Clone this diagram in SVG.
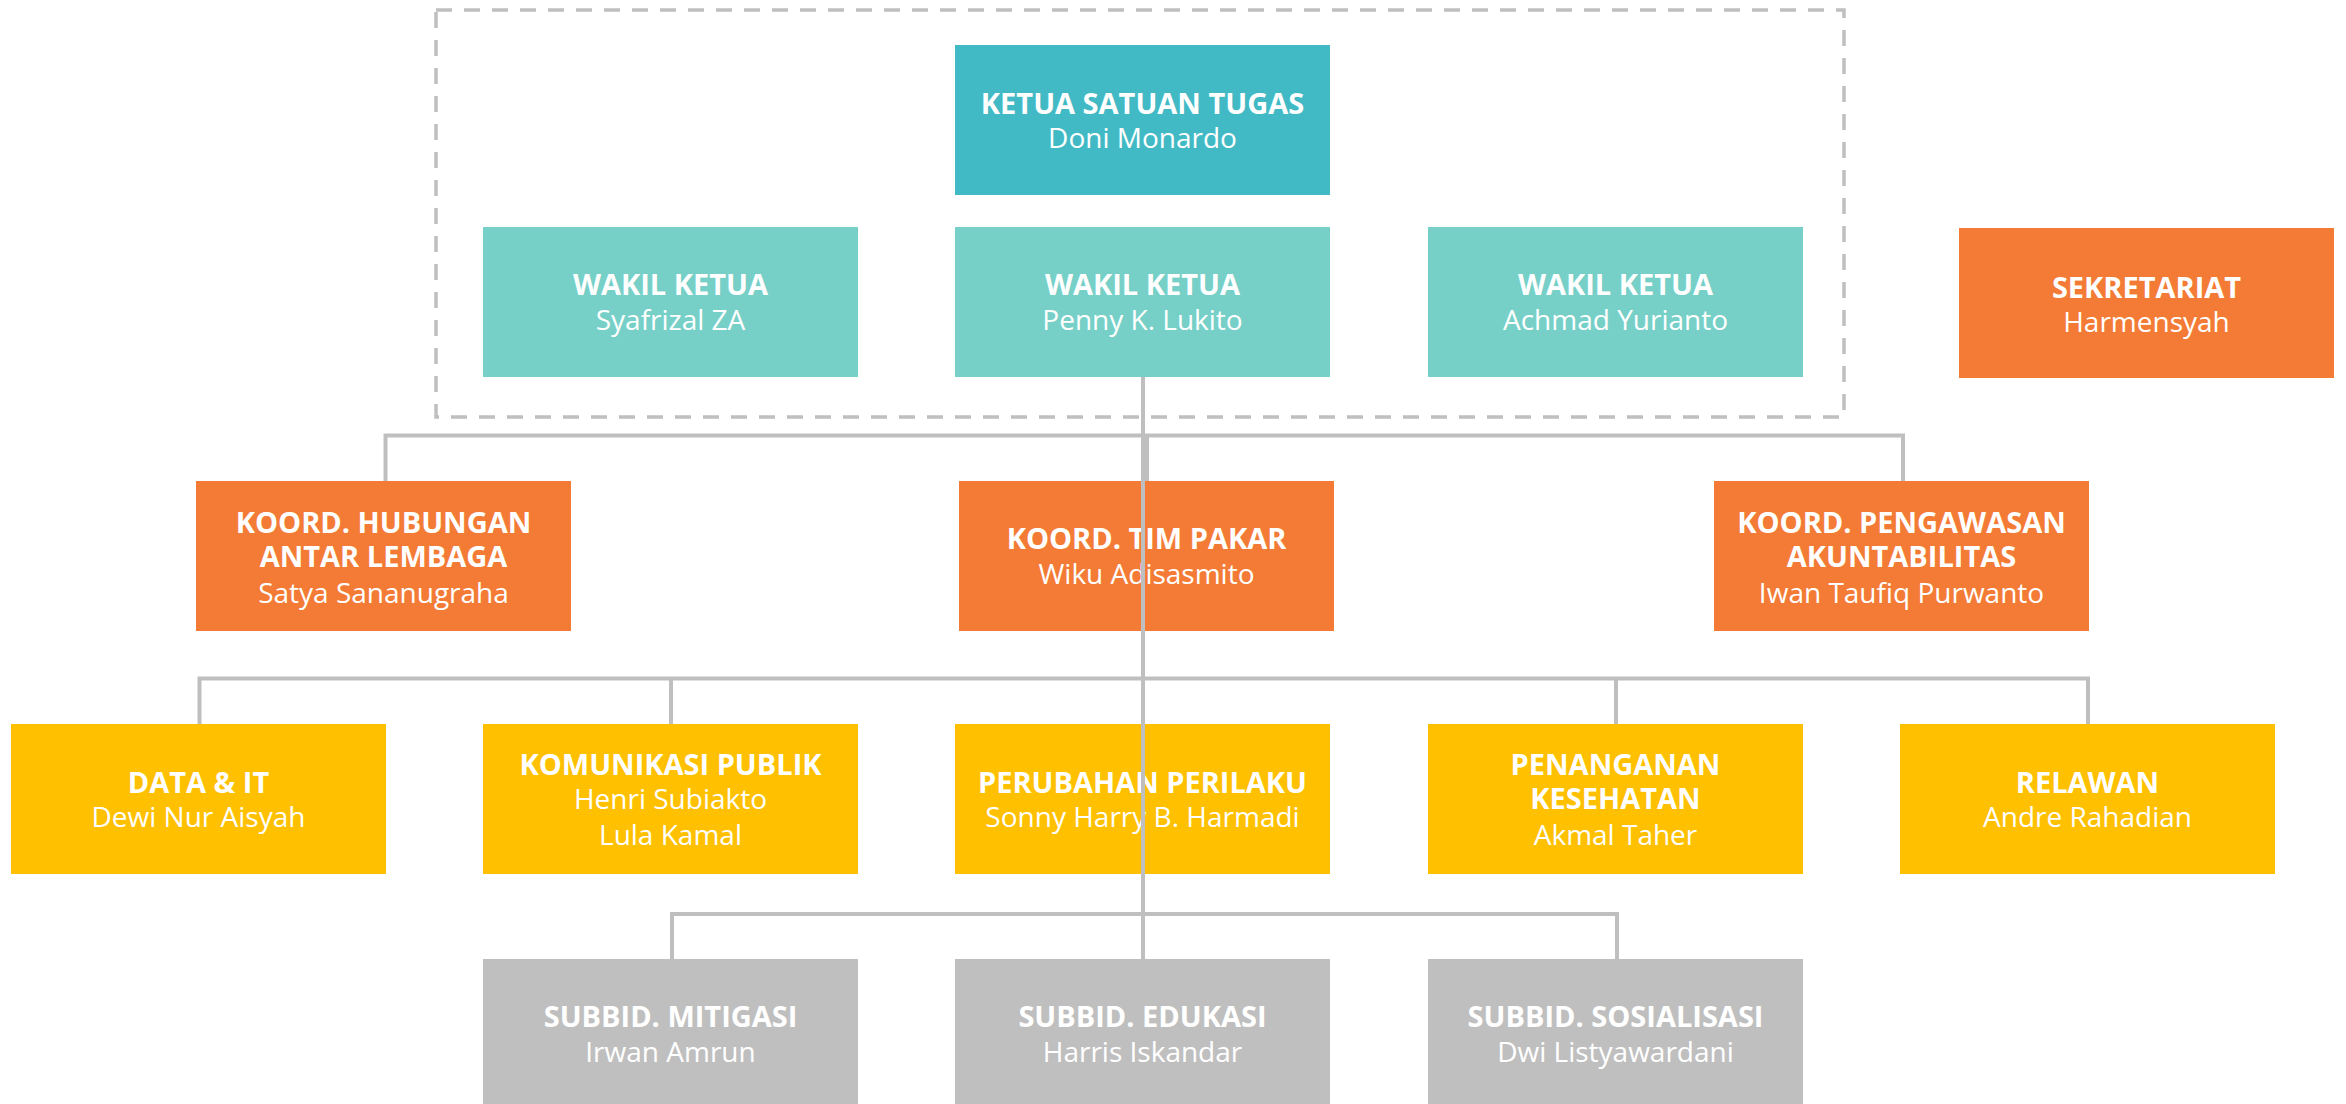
<svg xmlns="http://www.w3.org/2000/svg" width="2346" height="1104" viewBox="0 0 2346 1104">
<style>
.box{stroke:none}
.teal{fill:#42BAC5}
.mint{fill:#76D0C8}
.orange{fill:#F37B35}
.yellow{fill:#FFC000}
.gray{fill:#BFBFBF}
text{font-family:"Open Sans","Segoe UI","DejaVu Sans",sans-serif;fill:#FFFFFF;text-anchor:middle}
.t{font-weight:700;font-size:29px}
.n{font-weight:400;font-size:28px}
.conn{fill:none;stroke:#BFBFBF;stroke-width:4}
.frame{fill:none;stroke:#BFBFBF;stroke-width:3.5;stroke-dasharray:16 12}
</style>
<rect width="2346" height="1104" fill="#FFFFFF"/>
<rect class="frame" x="436" y="10" width="1408" height="407"/>

<g id="ketua"><rect class="box teal" x="955" y="45" width="375" height="150"/><text class="t" x="1142.5" y="114">KETUA SATUAN TUGAS</text><text class="n" x="1142.5" y="148">Doni Monardo</text></g>
<g id="wakil1"><rect class="box mint" x="483" y="227" width="375" height="150"/><text class="t" x="670.5" y="295">WAKIL KETUA</text><text class="n" x="670.5" y="330">Syafrizal ZA</text></g>
<g id="wakil2"><rect class="box mint" x="955" y="227" width="375" height="150"/><text class="t" x="1142.5" y="295">WAKIL KETUA</text><text class="n" x="1142.5" y="330">Penny K. Lukito</text></g>
<g id="wakil3"><rect class="box mint" x="1428" y="227" width="375" height="150"/><text class="t" x="1615.5" y="295">WAKIL KETUA</text><text class="n" x="1615.5" y="330">Achmad Yurianto</text></g>
<g id="sekretariat"><rect class="box orange" x="1959" y="228" width="375" height="150"/><text class="t" x="2146.5" y="298">SEKRETARIAT</text><text class="n" x="2146.5" y="332">Harmensyah</text></g>

<g id="koord-hubungan"><rect class="box orange" x="196" y="481" width="375" height="150"/><text class="t" x="383.5" y="533">KOORD. HUBUNGAN</text><text class="t" x="383.5" y="567">ANTAR LEMBAGA</text><text class="n" x="383.5" y="603">Satya Sananugraha</text></g>
<g id="koord-pakar"><rect class="box orange" x="959" y="481" width="375" height="150"/><text class="t" x="1146.5" y="549">KOORD. TIM PAKAR</text><text class="n" x="1146.5" y="584">Wiku Adisasmito</text></g>
<g id="koord-pengawasan"><rect class="box orange" x="1714" y="481" width="375" height="150"/><text class="t" x="1901.5" y="533">KOORD. PENGAWASAN</text><text class="t" x="1901.5" y="567">AKUNTABILITAS</text><text class="n" x="1901.5" y="603">Iwan Taufiq Purwanto</text></g>

<g id="data-it"><rect class="box yellow" x="11" y="724" width="375" height="150"/><text class="t" x="198.5" y="793">DATA &amp; IT</text><text class="n" x="198.5" y="827">Dewi Nur Aisyah</text></g>
<g id="komunikasi"><rect class="box yellow" x="483" y="724" width="375" height="150"/><text class="t" x="670.5" y="775">KOMUNIKASI PUBLIK</text><text class="n" x="670.5" y="809">Henri Subiakto</text><text class="n" x="670.5" y="845">Lula Kamal</text></g>
<g id="perubahan"><rect class="box yellow" x="955" y="724" width="375" height="150"/><text class="t" x="1142.5" y="793">PERUBAHAN PERILAKU</text><text class="n" x="1142.5" y="827">Sonny Harry B. Harmadi</text></g>
<g id="penanganan"><rect class="box yellow" x="1428" y="724" width="375" height="150"/><text class="t" x="1615.5" y="775">PENANGANAN</text><text class="t" x="1615.5" y="809">KESEHATAN</text><text class="n" x="1615.5" y="845">Akmal Taher</text></g>
<g id="relawan"><rect class="box yellow" x="1900" y="724" width="375" height="150"/><text class="t" x="2087.5" y="793">RELAWAN</text><text class="n" x="2087.5" y="827">Andre Rahadian</text></g>

<g id="mitigasi"><rect class="box gray" x="483" y="959" width="375" height="150"/><text class="t" x="670.5" y="1027">SUBBID. MITIGASI</text><text class="n" x="670.5" y="1062">Irwan Amrun</text></g>
<g id="edukasi"><rect class="box gray" x="955" y="959" width="375" height="150"/><text class="t" x="1142.5" y="1027">SUBBID. EDUKASI</text><text class="n" x="1142.5" y="1062">Harris Iskandar</text></g>
<g id="sosialisasi"><rect class="box gray" x="1428" y="959" width="375" height="150"/><text class="t" x="1615.5" y="1027">SUBBID. SOSIALISASI</text><text class="n" x="1615.5" y="1062">Dwi Listyawardani</text></g>

<g id="connectors">
<path class="conn" d="M1143,377 V959"/>
<path class="conn" d="M385.5,481 V435.5 H1903 V481"/>
<path class="conn" d="M1147,435.5 V481"/>
<path class="conn" d="M199.5,724 V678.5 H2088 V724"/>
<path class="conn" d="M671,678.5 V724"/>
<path class="conn" d="M1616,678.5 V724"/>
<path class="conn" d="M672,959 V914 H1617 V959"/>
</g>
</svg>
